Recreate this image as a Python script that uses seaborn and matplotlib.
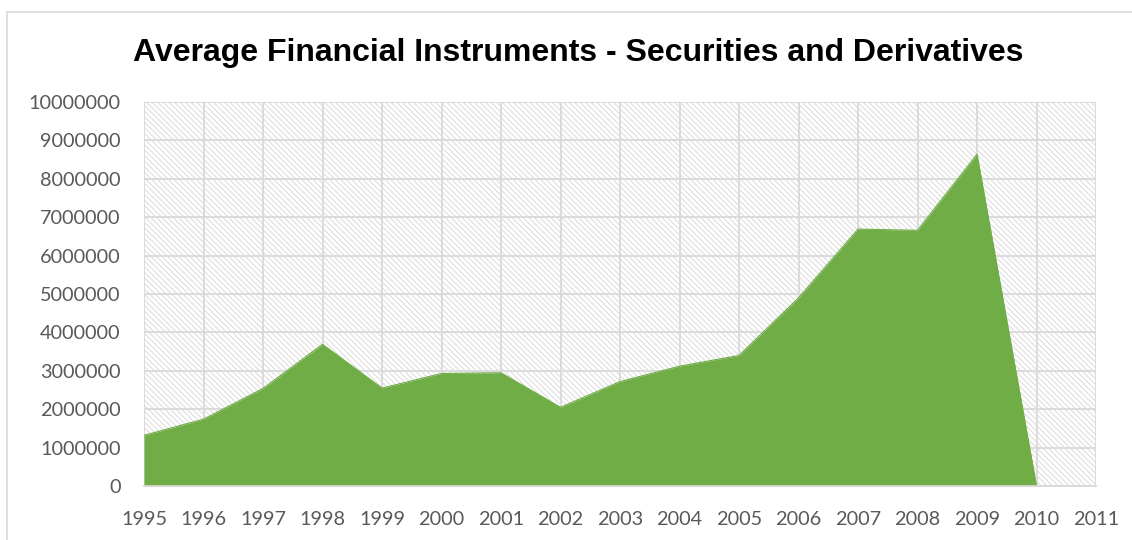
import matplotlib
matplotlib.use("Agg")
import matplotlib.pyplot as plt
import matplotlib.patches as mpatches
import matplotlib.ticker as mticker
import numpy as np
import seaborn as sns

years = [1995, 1996, 1997, 1998, 1999, 2000, 2001, 2002, 2003,
         2004, 2005, 2006, 2007, 2008, 2009, 2010, 2011]
values = [1320000, 1740000, 2540000, 3690000, 2550000, 2930000, 2950000,
          2050000, 2720000, 3120000, 3400000, 4900000, 6690000, 6660000,
          8640000, 0, np.nan]
yticks = list(range(0, 10000001, 1000000))
title = "Average Financial Instruments - Securities and Derivatives"

sns.set_theme(style="white")
plt.rcParams["font.family"] = ["Lato", "DejaVu Sans"]
plt.rcParams["hatch.linewidth"] = 0.8
plt.rcParams["hatch.color"] = "#dedede"

green = "#70AD47"
grid_c = "#d9d9d9"
tick_c = "#595959"

fig = plt.figure(figsize=(11.32, 5.40), dpi=100)
ax = fig.add_axes([144 / 1132, 1 - 486 / 540, (1096 - 144) / 1132, (486 - 102) / 540])
ax.set_facecolor("white")

# hatched plot-area background
bg = mpatches.Rectangle((0, 0), 1, 1, transform=ax.transAxes, facecolor="white",
                        edgecolor="#dedede", hatch="\\" * 6, linewidth=0, zorder=0)
ax.add_patch(bg)

x = np.array(years, dtype=float)
y = np.array(values, dtype=float)
mask = ~np.isnan(y)
sns.lineplot(x=x[mask], y=y[mask], ax=ax, color=green, linewidth=0.8, zorder=3)
ax.fill_between(x[mask], 0, y[mask], color=green, linewidth=0, zorder=3)

ax.set_xlim(1995, 2011)
ax.set_ylim(0, 10000000)
ax.set_xticks(years)
ax.set_xticklabels([str(v) for v in years])
ax.set_yticks(yticks)
ax.yaxis.set_major_formatter(mticker.FuncFormatter(lambda v, p: f"{int(v)}"))

ax.grid(True, color=grid_c, linewidth=1.3, zorder=1)
ax.set_axisbelow(True)
for s in ["top", "right", "left"]:
    ax.spines[s].set_visible(False)
ax.spines["bottom"].set_color(grid_c)
ax.spines["bottom"].set_linewidth(1.3)
ax.spines["bottom"].set_zorder(4)

ax.tick_params(axis="both", length=0, labelsize=14.3, labelcolor=tick_c)
ax.tick_params(axis="y", pad=17)
ax.tick_params(axis="x", pad=18)
ax.set_xlabel("")
ax.set_ylabel("")

fig.text(578 / 1132, 1 - 53 / 540, title, ha="center", va="center",
         fontsize=23, fontweight="bold", family=["Liberation Sans", "DejaVu Sans"],
         color="black")

border = mpatches.Rectangle((7 / 1132, -0.1), 2, 1 - 12 / 540 + 0.1,
                            transform=fig.transFigure, fill=False,
                            edgecolor=grid_c, linewidth=1.2)
fig.patches.append(border)

fig.savefig("out.png", dpi=100)
